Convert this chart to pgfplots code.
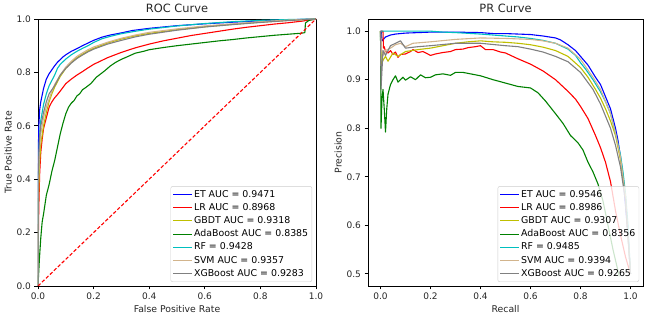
\documentclass[border=0pt]{standalone}
\usepackage{pgfplots}
\pgfplotsset{compat=1.18}
\usepackage{fontspec}
\setmainfont{DejaVu Sans}

% matplotlib-like colours
\definecolor{mplb}{rgb}{0,0,1}
\definecolor{mplr}{rgb}{1,0,0}
\definecolor{mply}{rgb}{0.75,0.75,0}
\definecolor{mplg}{rgb}{0,0.5,0}
\definecolor{mplc}{rgb}{0,0.75,0.75}
\definecolor{mpltan}{RGB}{210,180,140}
\definecolor{mplgray}{RGB}{128,128,128}

% short line samples in the legends
\pgfplotsset{legend image code/.code={%
  \draw[#1] plot coordinates {(0pt,0pt) (9pt,0pt) (18.5pt,0pt)};}}

\pgfplotsset{
  panel/.style={
    scale only axis,
    width=278pt, height=267pt,
    axis line style={black, line width=0.8pt},
    tick align=outside,
    major tick length=3.5pt,
    tick style={black, line width=0.8pt},
    xtick pos=left, ytick pos=left,
    /pgf/number format/assume math mode=true,
    /pgf/number format/.cd, fixed, fixed zerofill, precision=1,
    /pgfplots/.cd,
    tick label style={font=\fontsize{9}{10}\selectfont, text=black!85},
    label style={font=\fontsize{9.3}{11}\selectfont, text=black!85},
    title style={font=\fontsize{11.4}{13}\selectfont, text=black!85, yshift=-3pt},
    every axis plot/.append style={line width=1.1pt, line join=round},
    legend cell align=left,
    legend style={
      at={(axis description cs:0.986,0.015)}, anchor=south east,
      draw=black!20, fill=white, fill opacity=0.8, text opacity=1,
      rounded corners=2pt,
      font=\fontsize{9.4}{10}\selectfont,
      inner xsep=2pt, inner ysep=1.5pt,
      row sep=0pt,
      nodes={inner ysep=2.2pt, inner xsep=1.7pt, text height=7pt, text depth=1.8pt},
    },
  }
}

\begin{document}
\begin{tikzpicture}
\useasboundingbox (0,0) rectangle (649pt,316pt);

% ---------------- ROC ----------------
\begin{axis}[panel,
  at={(38pt,30pt)}, anchor=south west,
  xmin=0, xmax=1, ymin=0, ymax=1,
  xtick={0,0.2,...,1}, ytick={0,0.2,...,1},
  title={ROC Curve},
  xlabel={False Positive Rate}, ylabel={True Positive Rate},
  xlabel style={yshift=1pt}, ylabel style={yshift=-2pt},
]
\addplot[color=mplb] coordinates {
(0,0) (0,0.45) (0.003,0.6) (0.006,0.66) (0.01,0.69) (0.015,0.715) (0.02,0.74)
(0.03,0.775) (0.04,0.795) (0.05,0.81) (0.06,0.825) (0.07,0.838) (0.08,0.848)
(0.09,0.858) (0.1,0.866) (0.12,0.879) (0.14,0.889) (0.16,0.9) (0.18,0.91)
(0.2,0.92) (0.23,0.932) (0.26,0.94) (0.3,0.948) (0.34,0.957) (0.4,0.965)
(0.45,0.97) (0.5,0.975) (0.6,0.982) (0.7,0.988) (0.8,0.993) (0.9,0.997) (1,1)};
\addlegendentry{ET AUC = 0.9471}
\addplot[color=mplr] coordinates {
(0,0) (0,0.1) (0.003,0.3) (0.006,0.42) (0.01,0.5) (0.015,0.55) (0.02,0.59)
(0.03,0.63) (0.04,0.67) (0.05,0.69) (0.06,0.705) (0.07,0.717) (0.08,0.73)
(0.1,0.758) (0.12,0.775) (0.14,0.79) (0.16,0.803) (0.18,0.817) (0.2,0.83)
(0.22,0.84) (0.25,0.855) (0.3,0.875) (0.35,0.892) (0.4,0.906) (0.45,0.918)
(0.5,0.928) (0.55,0.938) (0.6,0.946) (0.65,0.954) (0.7,0.962) (0.75,0.969)
(0.8,0.975) (0.85,0.981) (0.9,0.986) (0.95,0.992) (1,1)};
\addlegendentry{LR AUC = 0.8968}
\addplot[color=mply] coordinates {
(0,0) (0,0.25) (0.005,0.45) (0.01,0.53) (0.02,0.6) (0.03,0.65) (0.04,0.69)
(0.05,0.72) (0.06,0.745) (0.08,0.785) (0.1,0.815) (0.12,0.838) (0.14,0.855)
(0.16,0.868) (0.18,0.88) (0.2,0.89) (0.25,0.91) (0.3,0.925) (0.35,0.937)
(0.4,0.946) (0.5,0.96) (0.6,0.971) (0.7,0.98) (0.8,0.988) (0.9,0.995) (1,1)};
\addlegendentry{GBDT AUC = 0.9318}
\addplot[color=mplg] coordinates {
(0,0) (0.005,0.1) (0.01,0.18) (0.015,0.24) (0.02,0.27) (0.03,0.34) (0.04,0.38)
(0.05,0.43) (0.06,0.47) (0.07,0.52) (0.08,0.57) (0.09,0.61) (0.1,0.645)
(0.11,0.67) (0.12,0.685) (0.13,0.695) (0.14,0.712) (0.15,0.72) (0.16,0.735)
(0.17,0.742) (0.18,0.75) (0.19,0.758) (0.2,0.77) (0.21,0.782) (0.22,0.79)
(0.24,0.806) (0.26,0.824) (0.28,0.838) (0.3,0.849) (0.32,0.858) (0.35,0.872)
(0.38,0.879) (0.4,0.885) (0.45,0.893) (0.5,0.9) (0.55,0.906) (0.6,0.912)
(0.65,0.918) (0.7,0.923) (0.75,0.929) (0.8,0.934) (0.85,0.939) (0.9,0.943)
(0.95,0.947) (0.96,0.949) (0.962,0.985) (0.975,0.995) (1,1)};
\addlegendentry{AdaBoost AUC = 0.8385}
\addplot[color=mplc] coordinates {
(0,0) (0,0.35) (0.005,0.55) (0.01,0.62) (0.02,0.68) (0.03,0.72) (0.04,0.75)
(0.05,0.77) (0.06,0.79) (0.07,0.815) (0.08,0.83) (0.1,0.85) (0.12,0.866)
(0.14,0.879) (0.16,0.89) (0.18,0.9) (0.2,0.912) (0.23,0.926) (0.26,0.935)
(0.3,0.945) (0.35,0.954) (0.4,0.962) (0.5,0.974) (0.6,0.983) (0.7,0.99)
(0.8,0.995) (0.9,0.998) (1,1)};
\addlegendentry{RF = 0.9428}
\addplot[color=mpltan] coordinates {
(0,0) (0,0.3) (0.005,0.5) (0.01,0.57) (0.02,0.63) (0.03,0.67) (0.04,0.7)
(0.05,0.73) (0.06,0.755) (0.08,0.79) (0.1,0.82) (0.12,0.842) (0.14,0.86)
(0.16,0.873) (0.18,0.885) (0.2,0.895) (0.25,0.913) (0.3,0.928) (0.35,0.94)
(0.4,0.95) (0.5,0.963) (0.6,0.974) (0.7,0.982) (0.8,0.99) (0.9,0.996) (1,1)};
\addlegendentry{SVM AUC = 0.9357}
\addplot[color=mplgray] coordinates {
(0,0) (0,0.4) (0.005,0.55) (0.01,0.6) (0.02,0.65) (0.03,0.69) (0.04,0.72)
(0.05,0.735) (0.06,0.75) (0.07,0.77) (0.08,0.79) (0.1,0.815) (0.12,0.835)
(0.14,0.852) (0.16,0.865) (0.18,0.877) (0.2,0.887) (0.25,0.906) (0.3,0.92)
(0.35,0.933) (0.4,0.943) (0.5,0.958) (0.6,0.97) (0.7,0.979) (0.8,0.987)
(0.9,0.994) (1,1)};
\addlegendentry{XGBoost AUC = 0.9283}
\addplot[color=mplr, line width=1.1pt, dash pattern=on 3.5pt off 2pt, forget plot]
  coordinates {(0,0) (1,1)};
\end{axis}

% ---------------- PR ----------------
\begin{axis}[panel,
  at={(368pt,30pt)}, anchor=south west, width=275pt,
  xmin=-0.05, xmax=1.05, ymin=0.475, ymax=1.025,
  xtick={0,0.2,...,1}, ytick={0.5,0.6,...,1.0},
  title={PR Curve},
  xlabel={Recall}, ylabel={Precision},
  xlabel style={yshift=1pt}, ylabel style={yshift=-2pt},
  clip=true,
]
\addplot[color=mplb] coordinates {
(0,1) (0.003,1) (0.006,0.98) (0.01,0.982) (0.02,0.988) (0.04,0.992) (0.06,0.994)
(0.1,0.996) (0.15,0.997) (0.2,0.998) (0.3,0.998) (0.4,0.997) (0.45,0.995)
(0.5,0.995) (0.55,0.994) (0.6,0.993) (0.65,0.99) (0.7,0.986) (0.72,0.982)
(0.75,0.972) (0.78,0.96) (0.8,0.948) (0.83,0.93) (0.86,0.905) (0.88,0.89)
(0.9,0.865) (0.92,0.84) (0.94,0.8) (0.95,0.775) (0.96,0.74) (0.97,0.7)
(0.98,0.64) (0.99,0.58) (1,0.5)};
\addlegendentry{ET AUC = 0.9546}
\addplot[color=mplr] coordinates {
(0,1) (0.01,1) (0.012,0.965) (0.015,0.968) (0.02,0.958) (0.03,0.955) (0.04,0.96)
(0.05,0.952) (0.06,0.957) (0.07,0.946) (0.08,0.952) (0.1,0.953) (0.12,0.958)
(0.13,0.962) (0.15,0.956) (0.17,0.958) (0.2,0.95) (0.22,0.953) (0.25,0.956)
(0.28,0.958) (0.3,0.962) (0.33,0.963) (0.35,0.966) (0.38,0.968) (0.4,0.97)
(0.42,0.962) (0.45,0.962) (0.48,0.957) (0.5,0.955) (0.55,0.943) (0.6,0.932)
(0.65,0.918) (0.7,0.9) (0.75,0.876) (0.78,0.86) (0.8,0.845) (0.83,0.82)
(0.86,0.785) (0.88,0.76) (0.9,0.73) (0.92,0.69) (0.94,0.63) (0.96,0.58)
(0.98,0.535) (1,0.5)};
\addlegendentry{LR AUC = 0.8986}
\addplot[color=mply] coordinates {
(0,1) (0.003,0.93) (0.01,0.94) (0.02,0.948) (0.03,0.938) (0.05,0.955) (0.07,0.948)
(0.1,0.958) (0.15,0.962) (0.2,0.965) (0.25,0.97) (0.3,0.975) (0.35,0.978)
(0.4,0.98) (0.45,0.978) (0.5,0.977) (0.55,0.975) (0.6,0.972) (0.65,0.967)
(0.7,0.96) (0.75,0.948) (0.8,0.925) (0.83,0.905) (0.86,0.88) (0.88,0.862)
(0.9,0.84) (0.92,0.815) (0.94,0.785) (0.96,0.735) (0.98,0.66) (1,0.5)};
\addlegendentry{GBDT AUC = 0.9307}
\addplot[color=mplg] coordinates {
(0,1) (0.002,0.8) (0.006,0.86) (0.01,0.88) (0.015,0.84) (0.02,0.792) (0.025,0.84)
(0.03,0.87) (0.04,0.89) (0.05,0.9) (0.06,0.908) (0.07,0.895) (0.08,0.9)
(0.09,0.905) (0.1,0.899) (0.12,0.906) (0.14,0.9) (0.16,0.91) (0.18,0.904)
(0.2,0.905) (0.22,0.91) (0.25,0.912) (0.28,0.909) (0.3,0.915) (0.33,0.915)
(0.36,0.912) (0.4,0.908) (0.45,0.9) (0.5,0.893) (0.55,0.886) (0.6,0.883)
(0.63,0.873) (0.66,0.856) (0.7,0.83) (0.73,0.81) (0.76,0.785) (0.79,0.77)
(0.81,0.755) (0.83,0.73) (0.85,0.71) (0.87,0.685) (0.89,0.65) (0.91,0.6)
(0.93,0.55) (0.955,0.495)};
\addlegendentry{AdaBoost AUC = 0.8356}
\addplot[color=mplc] coordinates {
(0,1) (0.2,1) (0.25,0.998) (0.3,0.997) (0.4,0.994) (0.5,0.99) (0.55,0.988)
(0.6,0.985) (0.65,0.981) (0.7,0.975) (0.75,0.963) (0.78,0.95) (0.8,0.935)
(0.82,0.922) (0.85,0.9) (0.88,0.875) (0.9,0.855) (0.92,0.83) (0.94,0.79)
(0.96,0.745) (0.97,0.71) (0.98,0.665) (0.99,0.6) (1,0.5)};
\addlegendentry{RF = 0.9485}
\addplot[color=mpltan] coordinates {
(0,1) (0.005,0.96) (0.01,0.95) (0.02,0.96) (0.04,0.965) (0.06,0.972) (0.08,0.975)
(0.1,0.968) (0.13,0.975) (0.2,0.978) (0.3,0.983) (0.4,0.986) (0.5,0.985)
(0.6,0.983) (0.65,0.98) (0.7,0.975) (0.75,0.965) (0.8,0.942) (0.85,0.905)
(0.88,0.88) (0.9,0.855) (0.92,0.83) (0.94,0.79) (0.96,0.74) (0.98,0.66) (1,0.5)};
\addlegendentry{SVM AUC = 0.9394}
\addplot[color=mplgray] coordinates {
(0,1) (0.002,0.88) (0.01,0.96) (0.02,0.95) (0.04,0.97) (0.06,0.975) (0.08,0.98)
(0.1,0.965) (0.15,0.968) (0.2,0.97) (0.3,0.975) (0.4,0.975) (0.5,0.97)
(0.55,0.968) (0.6,0.963) (0.65,0.957) (0.7,0.948) (0.75,0.937) (0.8,0.915)
(0.85,0.88) (0.88,0.85) (0.9,0.825) (0.92,0.8) (0.94,0.765) (0.96,0.72)
(0.98,0.65) (1,0.5)};
\addlegendentry{XGBoost AUC = 0.9265}
\end{axis}
\end{tikzpicture}
\end{document}
